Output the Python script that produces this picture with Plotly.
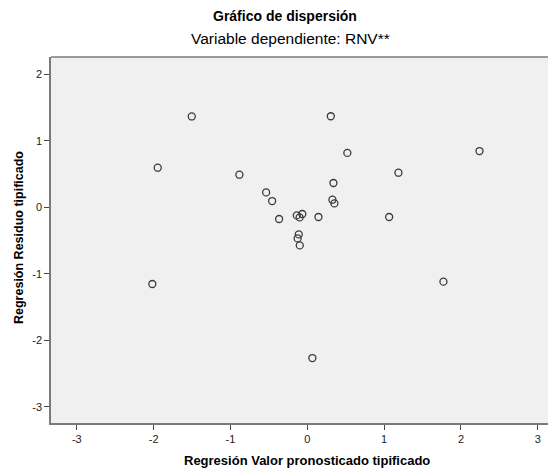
import plotly.graph_objects as go

# Data
pred_std = [-1.504, 0.306, 0.521, 2.241, -1.947, -0.884, 1.186, 0.340, -0.536, -0.458,
            0.327, 0.353, -0.367, -0.137, -0.065, -0.100, 0.145, 1.065, -0.111, -0.126,
            -0.098, -2.017, 1.772, 0.066]
resid_std = [1.365, 1.368, 0.817, 0.845, 0.594, 0.489, 0.519, 0.364, 0.223, 0.093,
             0.113, 0.057, -0.177, -0.123, -0.102, -0.153, -0.147, -0.147, -0.409, -0.469,
             -0.574, -1.155, -1.120, -2.268]
tick_vals_x = [-3, -2, -1, 0, 1, 2, 3]
tick_text_x = ["-3", "-2", "-1", "0", "1", "2", "3"]
tick_vals_y = [-3, -2, -1, 0, 1, 2]
tick_text_y = ["-3", "-2", "-1", "0", "1", "2"]

title_text = "<b>Gráfico de dispersión</b>"
subtitle_text = "Variable dependiente: RNV**"
x_title = "<b>Regresión Valor pronosticado tipificado</b>"
y_title = "<b>Regresión Residuo tipificado</b>"

FONT = "Liberation Sans, Arial, sans-serif"
OFF = 8  # default page body margin
W, H = 556 - OFF, 470 - OFF
ML, MR, MT, MB = 51 - OFF, 0, 57 - OFF, 47
PW = W - ML - MR
PH = H - MT - MB

def px_x(px):
    return (px - OFF - ML) / PW

def px_y(py):
    return (H - MB - (py - OFF)) / PH

fig = go.Figure()
fig.add_trace(go.Scatter(
    x=pred_std, y=resid_std, mode="markers",
    marker=dict(symbol="circle-open", size=7, color="#3a3a3a", line=dict(width=1.3, color="#3a3a3a")),
    showlegend=False, hoverinfo="x+y",
))

axis_common = dict(
    showgrid=False, zeroline=False, showline=True, linecolor="#7a7a7a", linewidth=1.5,
    ticks="outside", ticklen=5, tickwidth=1, tickcolor="#444444",
    tickfont=dict(family=FONT, size=11, color="#222222"),
)

fig.update_layout(
    width=W, height=H,
    margin=dict(l=ML, r=MR, t=MT, b=MB),
    paper_bgcolor="white", plot_bgcolor="#f0f0f0",
    font=dict(family=FONT, color="#000000"),
    xaxis=dict(range=[-3.336, 3.237], tickvals=tick_vals_x, ticktext=tick_text_x, **axis_common),
    yaxis=dict(range=[-3.245, 2.259], tickvals=tick_vals_y, ticktext=tick_text_y, **axis_common),
    shapes=[dict(type="line", xref="paper", yref="paper", x0=0, x1=1, y0=1, y1=1,
                 line=dict(color="#7a7a7a", width=1.5))],
    annotations=[
        dict(text=title_text, xref="paper", yref="paper", x=px_x(285), y=px_y(16),
             showarrow=False, xanchor="center", yanchor="middle",
             font=dict(family=FONT, size=14, color="#000000")),
        dict(text=subtitle_text, xref="paper", yref="paper", x=px_x(290), y=px_y(38),
             showarrow=False, xanchor="center", yanchor="middle",
             font=dict(family=FONT, size=15.5, color="#000000")),
        dict(text=x_title, xref="paper", yref="paper", x=px_x(307), y=px_y(461),
             showarrow=False, xanchor="center", yanchor="middle",
             font=dict(family=FONT, size=13, color="#000000")),
        dict(text=y_title, xref="paper", yref="paper", x=px_x(19), y=px_y(238),
             showarrow=False, xanchor="center", yanchor="middle", textangle=-90,
             font=dict(family=FONT, size=12.5, color="#000000")),
    ],
)

fig.write_html("out.html")
